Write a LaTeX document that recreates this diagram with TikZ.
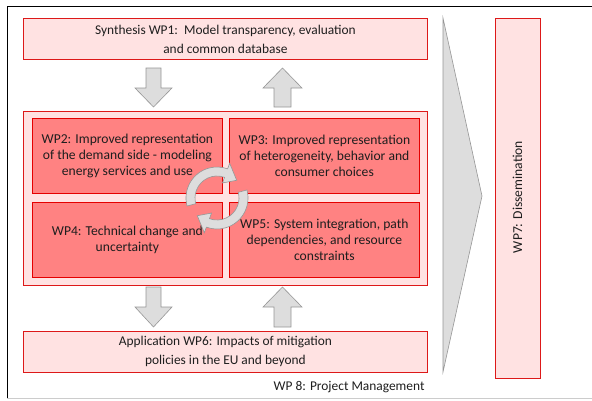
\documentclass[tikz,border=0pt]{standalone}
\usepackage{fontspec}
\setmainfont{Carlito}
\begin{document}
\begin{tikzpicture}[x=1pt,y=-1pt,
  lightbox/.style={draw=red!85!black!90, fill=pinkbg, line width=0.8pt},
  wpbox/.style={draw=red!90!black, fill=wpred, line width=0.8pt, align=center, font=\fontsize{13.6}{16}\selectfont, inner sep=0pt},
  blockarrow/.style={draw=arrowgray, fill=arrowfill, line width=0.6pt},
  txt/.style={text=textc, align=center}]
\definecolor{pinkbg}{RGB}{255,226,226}
\definecolor{wpred}{RGB}{255,130,130}
\definecolor{arrowgray}{RGB}{150,150,150}
\definecolor{arrowfill}{RGB}{221,221,221}
\definecolor{textc}{RGB}{30,30,30}
\useasboundingbox (0,0) rectangle (592,400);
% outer frame
\draw[line width=0.8pt] (7,398) -- (7,6) -- (600,6);
\draw[black!20] (7,398) -- (600,398);
% WP1
\node[lightbox, minimum width=404pt, minimum height=41pt, anchor=north west, inner sep=0pt] (wp1) at (23,18) {};
\node[txt, font=\fontsize{13.4}{19}\selectfont] (wp1t) at (wp1.center) {Synthesis WP1:\ \ Model transparency, evaluation\\and common database};
% middle container
\node[lightbox, minimum width=404pt, minimum height=174pt, anchor=north west, inner sep=0pt] (mid) at (23,111) {};
\node[wpbox, text=textc, minimum width=190pt, minimum height=75pt, anchor=north west] (wp2) at (32,118) {WP2: Improved representation\\of the demand side - modeling\\energy services and use};
\node[wpbox, text=textc, minimum width=190pt, minimum height=75pt, anchor=north west] (wp3) at (229,118) {WP3: Improved representation\\of heterogeneity, behavior and\\consumer choices};
\node[wpbox, text=textc, minimum width=190pt, minimum height=75pt, anchor=north west] (wp4) at (32,202) {WP4: Technical change and\\uncertainty};
\node[wpbox, text=textc, minimum width=190pt, minimum height=75pt, anchor=north west] (wp5) at (229,202) {WP5: System integration, path\\dependencies, and resource\\constraints};
% circular arrows
\begin{scope}[shift={(217,198)}, yscale=-1]
\draw[blockarrow] (195:31) arc[start angle=195, end angle=70, radius=31] -- (70:37) -- (42:26.5) -- (70:16) -- (70:22) arc[start angle=70, end angle=195, radius=22] -- cycle;
\draw[blockarrow] (15:31) arc[start angle=15, end angle=-110, radius=31] -- (-110:37) -- (-138:26.5) -- (-110:16) -- (-110:22) arc[start angle=-110, end angle=15, radius=22] -- cycle;
\end{scope}
% WP6
\node[lightbox, minimum width=404pt, minimum height=41pt, anchor=north west, inner sep=0pt] (wp6) at (23,331) {};
\node[txt, font=\fontsize{13.4}{19}\selectfont] (wp6t) at (wp6.center) {Application WP6: Impacts of mitigation\\policies in the EU and beyond};
% block arrows top
\draw[blockarrow] (146,68) -- (161,68) -- (161,88) -- (172,88) -- (153.5,107) -- (135,88) -- (146,88) -- cycle;
\draw[blockarrow] (274,107) -- (291,107) -- (291,88) -- (302,88) -- (282.5,68) -- (263,88) -- (274,88) -- cycle;
% block arrows bottom
\draw[blockarrow] (146,287) -- (161,287) -- (161,307) -- (172,307) -- (153.5,327) -- (135,307) -- (146,307) -- cycle;
\draw[blockarrow] (274,327) -- (291,327) -- (291,307) -- (302,307) -- (282.5,287) -- (263,307) -- (274,307) -- cycle;
% chevron
\draw[blockarrow] (443,18) -- (482,196) -- (443,372) -- cycle;
% WP7
\node[lightbox, minimum width=45pt, minimum height=360pt, anchor=north west, inner sep=0pt] (wp7) at (495,18) {};
\node[txt, rotate=90, font=\fontsize{13.6}{15}\selectfont] (wp7t) at (517.5,197) {WP7: Dissemination};
% WP8
\node[txt, anchor=east, font=\fontsize{13.4}{15}\selectfont] (wp8) at (428,387) {WP 8: Project Management};
\end{tikzpicture}
\end{document}
